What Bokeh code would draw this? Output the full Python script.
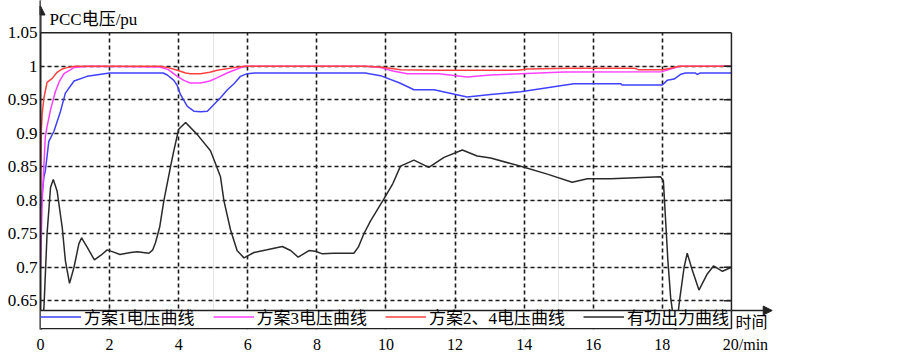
from bokeh.plotting import figure
from bokeh.models import (Range1d, FixedTicker, LinearAxis, NumeralTickFormatter, Legend,
                          LegendItem, Arrow, NormalHead, Label, Grid, BoxAnnotation)
from bokeh.embed import file_html
from bokeh.resources import INLINE

# ---------------- data ----------------
x_ticks = [0, 2, 4, 6, 8, 10, 12, 14, 16, 18, 20]
y_ticks = [0.65, 0.7, 0.75, 0.8, 0.85, 0.9, 0.95, 1.0, 1.05]
X_MIN, X_MAX = 0, 20            # plotted region
Y_MIN, Y_MAX = 0.6354, 1.05
X_VIEW_END = 21.42              # room for the axis arrow and "时间"
Y_VIEW = (0.6071, 1.0982)       # room for the legend strip and the y arrow

series_names = ["方案1电压曲线", "方案3电压曲线", "方案2、4电压曲线", "有功出力曲线"]
y_title = "PCC电压/pu"
x_title_top = "时间"
x_title_unit = "/min"

# 方案1 (blue)
x_s1 = [0.0, 0.05, 0.1, 0.14, 0.24, 0.39, 0.58, 0.72, 0.97, 1.35, 2.0, 3.55, 3.67, 3.86, 3.96,
        4.05, 4.25, 4.44, 4.63, 4.83, 5.02, 5.21, 5.41, 5.6, 5.79, 5.98, 6.2, 9.4, 9.84, 10.4,
        10.81, 11.39, 12.35, 13.03, 13.9, 14.67, 15.05, 15.44, 16.79, 16.84, 18.0, 18.14, 18.34,
        18.53, 18.67, 18.95, 19.01, 19.1, 20.0]
y_s1 = [0.78, 0.81, 0.835, 0.844, 0.888, 0.903, 0.933, 0.960, 0.978, 0.985, 0.990, 0.990, 0.987,
        0.979, 0.971, 0.958, 0.940, 0.933, 0.932, 0.933, 0.943, 0.953, 0.965, 0.974, 0.985, 0.989,
        0.990, 0.990, 0.986, 0.975, 0.965, 0.965, 0.954, 0.958, 0.962, 0.968, 0.971, 0.974, 0.974,
        0.972, 0.972, 0.979, 0.981, 0.988, 0.990, 0.990, 0.988, 0.990, 0.990]

# 方案3 (magenta)
x_s3 = [0.0, 0.05, 0.1, 0.14, 0.19, 0.29, 0.43, 0.55, 0.68, 0.97, 1.4, 3.45, 3.7, 3.96, 4.15,
        4.34, 4.63, 4.9, 5.12, 5.4, 5.6, 5.8, 5.95, 9.4, 9.84, 10.2, 10.62, 11.53, 12.35, 13.03,
        13.9, 15.15, 18.0, 18.24, 18.43, 18.55, 20.0]
y_s3 = [0.70, 0.80, 0.854, 0.895, 0.910, 0.935, 0.962, 0.978, 0.989, 0.998, 1.0, 0.999, 0.995,
        0.985, 0.979, 0.975, 0.975, 0.978, 0.983, 0.990, 0.994, 0.998, 1.0, 1.0, 0.998, 0.993,
        0.989, 0.989, 0.984, 0.987, 0.989, 0.9915, 0.992, 0.996, 0.999, 1.0, 1.0]

# 方案2、4 (red)
x_s24 = [0.0, 0.02, 0.05, 0.1, 0.19, 0.34, 0.48, 0.63, 0.77, 1.0, 3.45, 3.7, 3.96, 4.2, 4.34,
         4.63, 4.9, 5.12, 5.6, 5.9, 9.4, 9.84, 10.42, 11.53, 13.8, 14.1, 15.3, 17.2, 17.3, 18.0,
         18.24, 18.48, 20.0]
y_s24 = [0.80, 0.90, 0.93, 0.953, 0.976, 0.982, 0.991, 0.996, 0.998, 1.0, 1.0, 0.998, 0.994,
         0.990, 0.989, 0.989, 0.991, 0.994, 0.998, 1.0, 1.0, 0.999, 0.995, 0.994, 0.994, 0.996,
         0.997, 0.997, 0.995, 0.995, 0.997, 1.0, 1.0]

# 有功出力 (black)
x_p = [0.0, 0.1, 0.19, 0.29, 0.37, 0.48, 0.63, 0.72, 0.84, 0.97, 1.11, 1.19, 1.35, 1.56, 1.75,
       1.93, 2.1, 2.3, 2.61, 2.8, 3.14, 3.25, 3.33, 3.45, 3.57, 3.76, 3.86, 4.0, 4.2, 4.54, 4.92,
       5.07, 5.21, 5.31, 5.5, 5.69, 5.89, 6.18, 6.56, 7.0, 7.24, 7.46, 7.77, 7.96, 8.16, 8.49,
       9.07, 9.2, 9.36, 9.55, 9.94, 10.2, 10.42, 10.81, 11.24, 11.68, 12.21, 12.64, 13.03, 13.95,
       14.67, 15.39, 15.83, 16.5, 17.95, 18.03, 18.09, 18.16, 18.24, 18.38, 18.51, 18.63, 18.72,
       18.87, 19.06, 19.3, 19.48, 19.74, 20.0]
y_p = [0.60, 0.64, 0.750, 0.819, 0.831, 0.814, 0.759, 0.710, 0.676, 0.700, 0.735, 0.744, 0.730,
       0.711, 0.718, 0.726, 0.723, 0.719, 0.722, 0.723, 0.721, 0.726, 0.737, 0.760, 0.799, 0.849,
       0.874, 0.906, 0.916, 0.898, 0.874, 0.854, 0.835, 0.799, 0.756, 0.725, 0.714, 0.722, 0.726,
       0.731, 0.725, 0.715, 0.725, 0.724, 0.720, 0.721, 0.721, 0.730, 0.750, 0.769, 0.802, 0.825,
       0.851, 0.860, 0.849, 0.864, 0.875, 0.866, 0.863, 0.850, 0.839, 0.827, 0.832, 0.832, 0.835,
       0.829, 0.774, 0.710, 0.655, 0.600, 0.655, 0.700, 0.721, 0.695, 0.666, 0.690, 0.702, 0.694,
       0.700]

# ---------------- style ----------------
FONT = "Liberation Serif, Noto Sans CJK SC"
NUM_FONT = "Liberation Serif"
AX = "#222222"
Y_STRIP_BOTTOM = Y_VIEW[0] + 0.0012   # bottom edge of the legend strip

p = figure(frame_width=740, frame_height=329,
           x_range=Range1d(X_MIN, X_VIEW_END), y_range=Range1d(*Y_VIEW),
           output_backend="svg", toolbar_location=None,
           x_axis_location=None, y_axis_location=None,
           min_border_left=40, min_border_right=123, min_border_top=0, min_border_bottom=0)
p.outline_line_color = None
p.background_fill_color = "white"

# y axis (left)
yax = LinearAxis(ticker=FixedTicker(ticks=y_ticks), formatter=NumeralTickFormatter(format="0.[00]"))
yax.major_label_text_font = NUM_FONT
yax.major_label_text_font_size = "17px"
yax.major_label_text_color = "black"
yax.major_label_standoff = 3
yax.major_tick_out = 0
yax.major_tick_in = 0
yax.minor_tick_line_color = None
yax.axis_line_color = AX
yax.axis_line_width = 2
p.add_layout(yax, "left")

# x axis (labels only, below the legend strip)
xax = LinearAxis(ticker=FixedTicker(ticks=x_ticks))
xax.axis_line_color = None
xax.major_tick_line_color = None
xax.minor_tick_line_color = None
xax.major_label_standoff = 0
xax.major_label_text_font = NUM_FONT
xax.major_label_text_font_size = "16px"
xax.major_label_text_color = "black"
xax.major_label_overrides = {X_MAX: "\u00a0" * 7 + str(X_MAX) + x_title_unit}
p.add_layout(xax, "below")

# grids
gx = Grid(dimension=0, ticker=FixedTicker(ticks=x_ticks[1:-1]))
gy = Grid(dimension=1, ticker=FixedTicker(ticks=y_ticks[:-1]))
for g in (gx, gy):
    g.grid_line_color = "#1a1a1a"
    g.grid_line_dash = "4 3"
    g.grid_line_width = 1.6
    p.add_layout(g)

# lines
r1 = p.line(x_s1, y_s1, line_color="#4040ff", line_width=1.5)
r3 = p.line(x_s3, y_s3, line_color="#ff40ff", line_width=1.5)
r24 = p.line(x_s24, y_s24, line_color="#ff4040", line_width=1.5)
rp = p.line(x_p, y_p, line_color="#2a2a2a", line_width=1.5)

# inward ticks on the right border
p.segment(x0=[X_MAX - 0.22] * (len(y_ticks) - 1), y0=y_ticks[:-1],
          x1=[X_MAX] * (len(y_ticks) - 1), y1=y_ticks[:-1], line_color=AX, line_width=1.5)

# blank the margins outside the plotted region
p.add_layout(BoxAnnotation(bottom=Y_MAX, fill_color="white", fill_alpha=1.0, line_color=None))
p.add_layout(BoxAnnotation(left=X_MAX, fill_color="white", fill_alpha=1.0, line_color=None))
p.add_layout(BoxAnnotation(top=Y_MIN, right=X_MAX, fill_color="white", fill_alpha=1.0,
                           line_color=None))

legend = Legend(items=[LegendItem(label=series_names[0], renderers=[r1]),
                       LegendItem(label=series_names[1], renderers=[r3]),
                       LegendItem(label=series_names[2], renderers=[r24]),
                       LegendItem(label=series_names[3], renderers=[rp])],
                orientation="horizontal", location="bottom_left", margin=0, padding=1,
                spacing=18, glyph_width=41, glyph_height=11, label_standoff=3, label_height=11,
                label_text_font=FONT, label_text_font_size="17px", label_text_color="black",
                border_line_color=None, background_fill_alpha=0.0)
p.add_layout(legend)

# frame borders, legend strip borders and axis arrows
border = dict(end=None, line_color=AX, line_width=1.5)
p.add_layout(Arrow(x_start=X_MIN, y_start=Y_MAX, x_end=X_MAX, y_end=Y_MAX, **border))
p.add_layout(Arrow(x_start=X_MAX, y_start=Y_STRIP_BOTTOM, x_end=X_MAX, y_end=Y_MAX, **border))
p.add_layout(Arrow(x_start=X_MIN, y_start=Y_STRIP_BOTTOM, x_end=X_MAX, y_end=Y_STRIP_BOTTOM,
                   **border))
p.add_layout(Arrow(end=NormalHead(size=9, fill_color=AX, line_color=AX),
                   x_start=X_MIN, y_start=Y_MIN, x_end=X_MAX + 1.18, y_end=Y_MIN,
                   line_color=AX, line_width=1.5))
p.add_layout(Arrow(end=NormalHead(size=9, fill_color=AX, line_color=AX),
                   x_start=X_MIN, y_start=Y_MAX, x_end=X_MIN, y_end=Y_MAX + 0.04,
                   line_color=AX, line_width=2))

# axis names
p.add_layout(Label(x=X_MIN, y=Y_MAX, x_offset=9, y_offset=4, text=y_title,
                   text_font=FONT, text_font_size="17px", text_baseline="bottom",
                   text_color="black"))
p.add_layout(Label(x=X_MAX, y=Y_MIN, x_offset=4, y_offset=-3, text=x_title_top,
                   text_font=FONT, text_font_size="16px", text_baseline="top",
                   text_color="black"))

open("out.html", "w").write(file_html(p, INLINE))
